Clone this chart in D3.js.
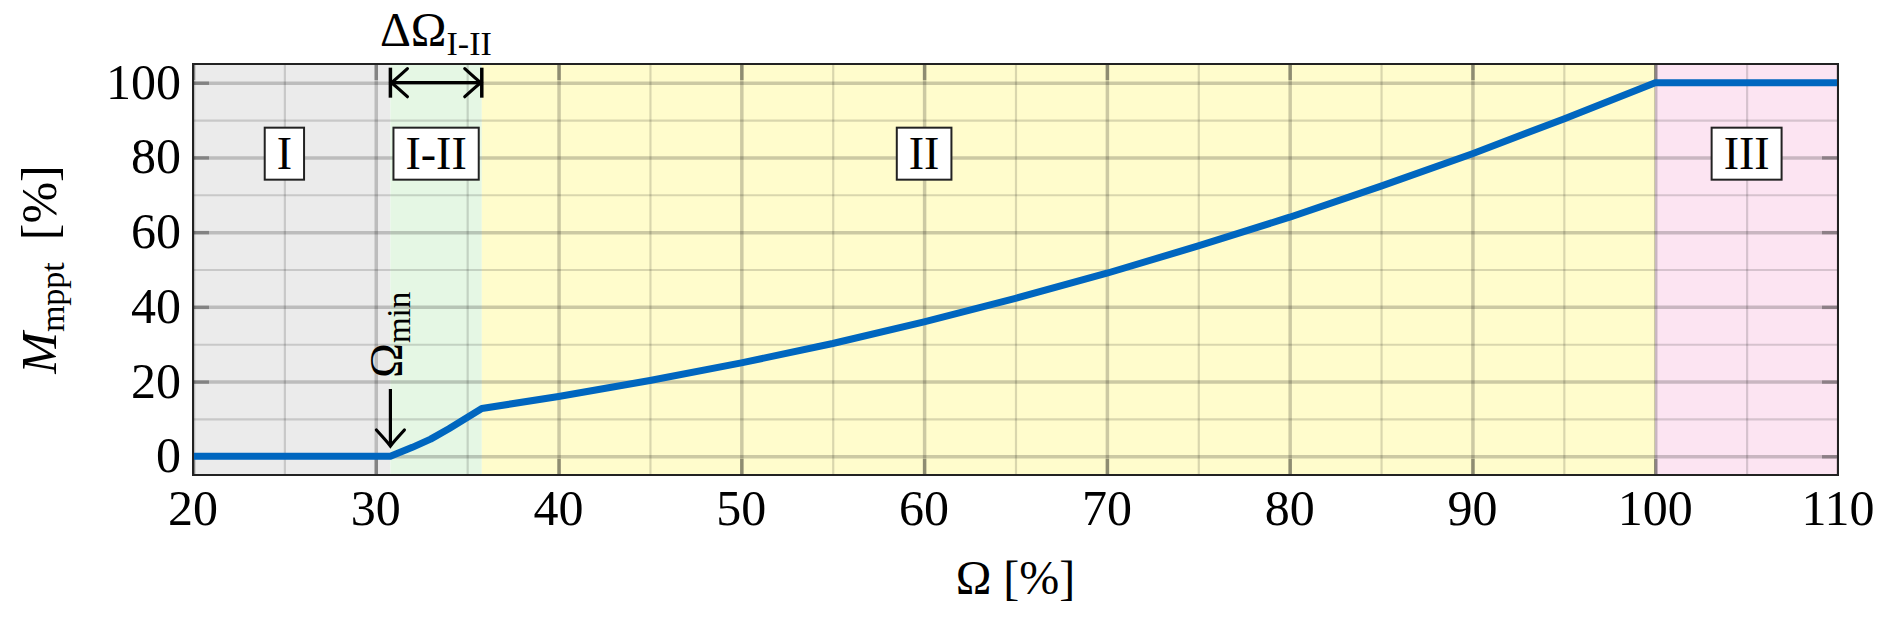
<!DOCTYPE html>
<html>
<head>
<meta charset="utf-8">
<script src="https://cdn.jsdelivr.net/npm/d3@7"></script>
<style>
body { margin: 0; background: #fff; }
text { font-family: "Liberation Serif", "DejaVu Serif", serif; fill: #000; }
</style>
</head>
<body>
<svg width="1892" height="625"></svg>
<script>
// curve
var omega = [20, 30.8, 32, 33, 34, 35, 35.8, 40, 45, 50, 55, 60, 65, 70, 75, 80, 85, 90, 95, 100, 110];
var mppt  = [0, 0, 2.4, 4.6, 7.4, 10.4, 12.8, 16, 20.3, 25, 30.2, 36, 42.3, 49, 56.3, 64, 72.3, 81, 90.3, 100, 100];

var xTicks = [20, 30, 40, 50, 60, 70, 80, 90, 100, 110];
var yTicks = [0, 20, 40, 60, 80, 100];
var xMinor = [25, 35, 45, 55, 65, 75, 85, 95, 105];
var yMinor = [10, 30, 50, 70, 90];

// operating regions
var regionNames = ["I", "I-II", "II", "III"];
var regionFrom  = [20, 30.8, 35.8, 100];
var regionTo    = [30.8, 35.8, 100, 110];
var labelAt     = [25, 33.3, 60, 105];
var labelLevel  = 81;
var omegaMin = 30.8;
var omegaII = 35.8;

var regionFill = ["#ebebeb", "#e5f7e4", "#fffccc", "#fce4f2"];

var svg = d3.select("svg"),
    pL = 193, pR = 1838, pT = 64, pB = 475;

var x = d3.scaleLinear().domain([20, 110]).range([pL, pR]);
var y = d3.scaleLinear().domain([-5, 105]).range([pB, pT]);

svg.append("clipPath").attr("id", "plot")
    .append("rect").attr("x", pL).attr("y", pT)
    .attr("width", pR - pL).attr("height", pB - pT);

var g = svg.append("g").attr("clip-path", "url(#plot)");

// backgrounds
g.selectAll("rect.region")
    .data(regionNames)
    .enter().append("rect")
    .attr("class", "region")
    .attr("x", function(d, i) { return x(regionFrom[i]); })
    .attr("width", function(d, i) { return x(regionTo[i]) - x(regionFrom[i]); })
    .attr("y", pT)
    .attr("height", pB - pT)
    .attr("fill", function(d, i) { return regionFill[i]; });

// grid
function grid(axis, tr, vals, size, col, w) {
    g.append("g").attr("transform", tr)
        .call(axis.tickValues(vals).tickSize(size).tickFormat(""))
        .call(function(s) { s.select(".domain").remove(); })
        .selectAll("line").attr("stroke", col).attr("stroke-width", w);
}
grid(d3.axisBottom(x), "translate(0," + pB + ")", xMinor, -(pB - pT), "rgba(0,0,0,0.15)", 2.2);
grid(d3.axisLeft(y), "translate(" + pL + ",0)", yMinor, -(pR - pL), "rgba(0,0,0,0.15)", 2.2);
grid(d3.axisBottom(x), "translate(0," + pB + ")", xTicks, -(pB - pT), "rgba(0,0,0,0.2)", 3.5);
grid(d3.axisLeft(y), "translate(" + pL + ",0)", yTicks, -(pR - pL), "rgba(0,0,0,0.2)", 3.5);

// inner tick marks
grid(d3.axisLeft(y), "translate(" + pL + ",0)", yTicks, -16, "rgba(0,0,0,0.3)", 3.5);
grid(d3.axisRight(y), "translate(" + pR + ",0)", yTicks, -16, "rgba(0,0,0,0.3)", 3.5);
grid(d3.axisTop(x), "translate(0," + pT + ")", xTicks, -16, "rgba(0,0,0,0.3)", 3.5);
grid(d3.axisBottom(x), "translate(0," + pB + ")", xTicks, -16, "rgba(0,0,0,0.3)", 3.5);

// curve
var line = d3.line()
    .x(function(d, i) { return x(omega[i]); })
    .y(function(d) { return y(d); });
g.append("path")
    .datum(mppt)
    .attr("d", line)
    .attr("fill", "none")
    .attr("stroke", "#0066bf")
    .attr("stroke-width", 7)
    .attr("stroke-linejoin", "round");

// region labels in boxes
var lab = svg.append("g");
regionNames.forEach(function(name, i) {
    var t = lab.append("text")
        .attr("x", x(labelAt[i]))
        .attr("y", y(labelLevel) + 15)
        .attr("text-anchor", "middle")
        .style("font-size", "46px")
        .text(name);
    var b = t.node().getBBox();
    lab.insert("rect", "text")
        .attr("x", b.x - 12).attr("width", b.width + 24)
        .attr("y", y(labelLevel) - 26).attr("height", 52)
        .attr("fill", "#fff").attr("stroke", "#222").attr("stroke-width", 2);
});

// frame
svg.append("rect")
    .attr("x", pL).attr("y", pT)
    .attr("width", pR - pL).attr("height", pB - pT)
    .attr("fill", "none").attr("stroke", "#222").attr("stroke-width", 2);

// tick labels
svg.append("g").selectAll("text")
    .data(xTicks).enter().append("text")
    .attr("x", function(d) { return x(d); })
    .attr("y", 525)
    .attr("text-anchor", "middle")
    .style("font-size", "50px")
    .text(function(d) { return d; });
svg.append("g").selectAll("text")
    .data(yTicks).enter().append("text")
    .attr("x", 181)
    .attr("y", function(d) { return y(d) + 16; })
    .attr("text-anchor", "end")
    .style("font-size", "50px")
    .text(function(d) { return d; });

// axis titles
var xt = svg.append("text")
    .attr("x", (pL + pR) / 2)
    .attr("y", 594)
    .attr("text-anchor", "middle")
    .style("font-size", "48px");
xt.append("tspan").text("Ω");
xt.append("tspan").attr("dx", 12).text("[%]");

var yt = svg.append("text")
    .attr("transform", "translate(56," + ((pT + pB) / 2) + ") rotate(-90)")
    .attr("text-anchor", "middle")
    .style("font-size", "50px");
yt.append("tspan").style("font-style", "italic").text("M");
yt.append("tspan").attr("dy", 8).style("font-size", "34px").text("mppt");
yt.append("tspan").attr("dy", -8).attr("dx", 22).text("[%]");

// arrowhead in the LaTeX "to" style, tip at (0,0) pointing along +x
function head(sel, px, py, angle) {
    sel.append("path")
        .attr("transform", "translate(" + px + "," + py + ") rotate(" + angle + ")")
        .attr("d", "M-16,-14 Q-4,-3 0,0 Q-4,3 -16,14")
        .attr("fill", "none").attr("stroke", "#000").attr("stroke-width", 3.2)
        .attr("stroke-linecap", "round");
}

// Omega_min marker
var am = svg.append("g");
am.append("line")
    .attr("x1", x(omegaMin)).attr("x2", x(omegaMin))
    .attr("y1", 389).attr("y2", 444)
    .attr("stroke", "#000").attr("stroke-width", 3.2);
head(am, x(omegaMin), 446, 90);
var om = svg.append("text")
    .attr("transform", "translate(" + (x(omegaMin) + 12) + ",378) rotate(-90)")
    .style("font-size", "47px");
om.append("tspan").text("Ω");
om.append("tspan").attr("dy", 8).style("font-size", "33px").text("min");

// Delta Omega I-II marker
var dm = svg.append("g");
dm.append("line")
    .attr("x1", x(omegaMin) + 2).attr("x2", x(omegaII) - 2)
    .attr("y1", y(100)).attr("y2", y(100))
    .attr("stroke", "#000").attr("stroke-width", 3.2);
[omegaMin, omegaII].forEach(function(v) {
    dm.append("line")
        .attr("x1", x(v)).attr("x2", x(v))
        .attr("y1", y(100) - 15).attr("y2", y(100) + 15)
        .attr("stroke", "#000").attr("stroke-width", 3.5);
});
head(dm, x(omegaMin) + 1, y(100), 180);
head(dm, x(omegaII) - 1, y(100), 0);
var dl = svg.append("text")
    .attr("x", 380).attr("y", 46)
    .style("font-size", "48px");
dl.append("tspan").text("ΔΩ");
dl.append("tspan").attr("dy", 9).style("font-size", "34px").text("I-II");
</script>
</body>
</html>
